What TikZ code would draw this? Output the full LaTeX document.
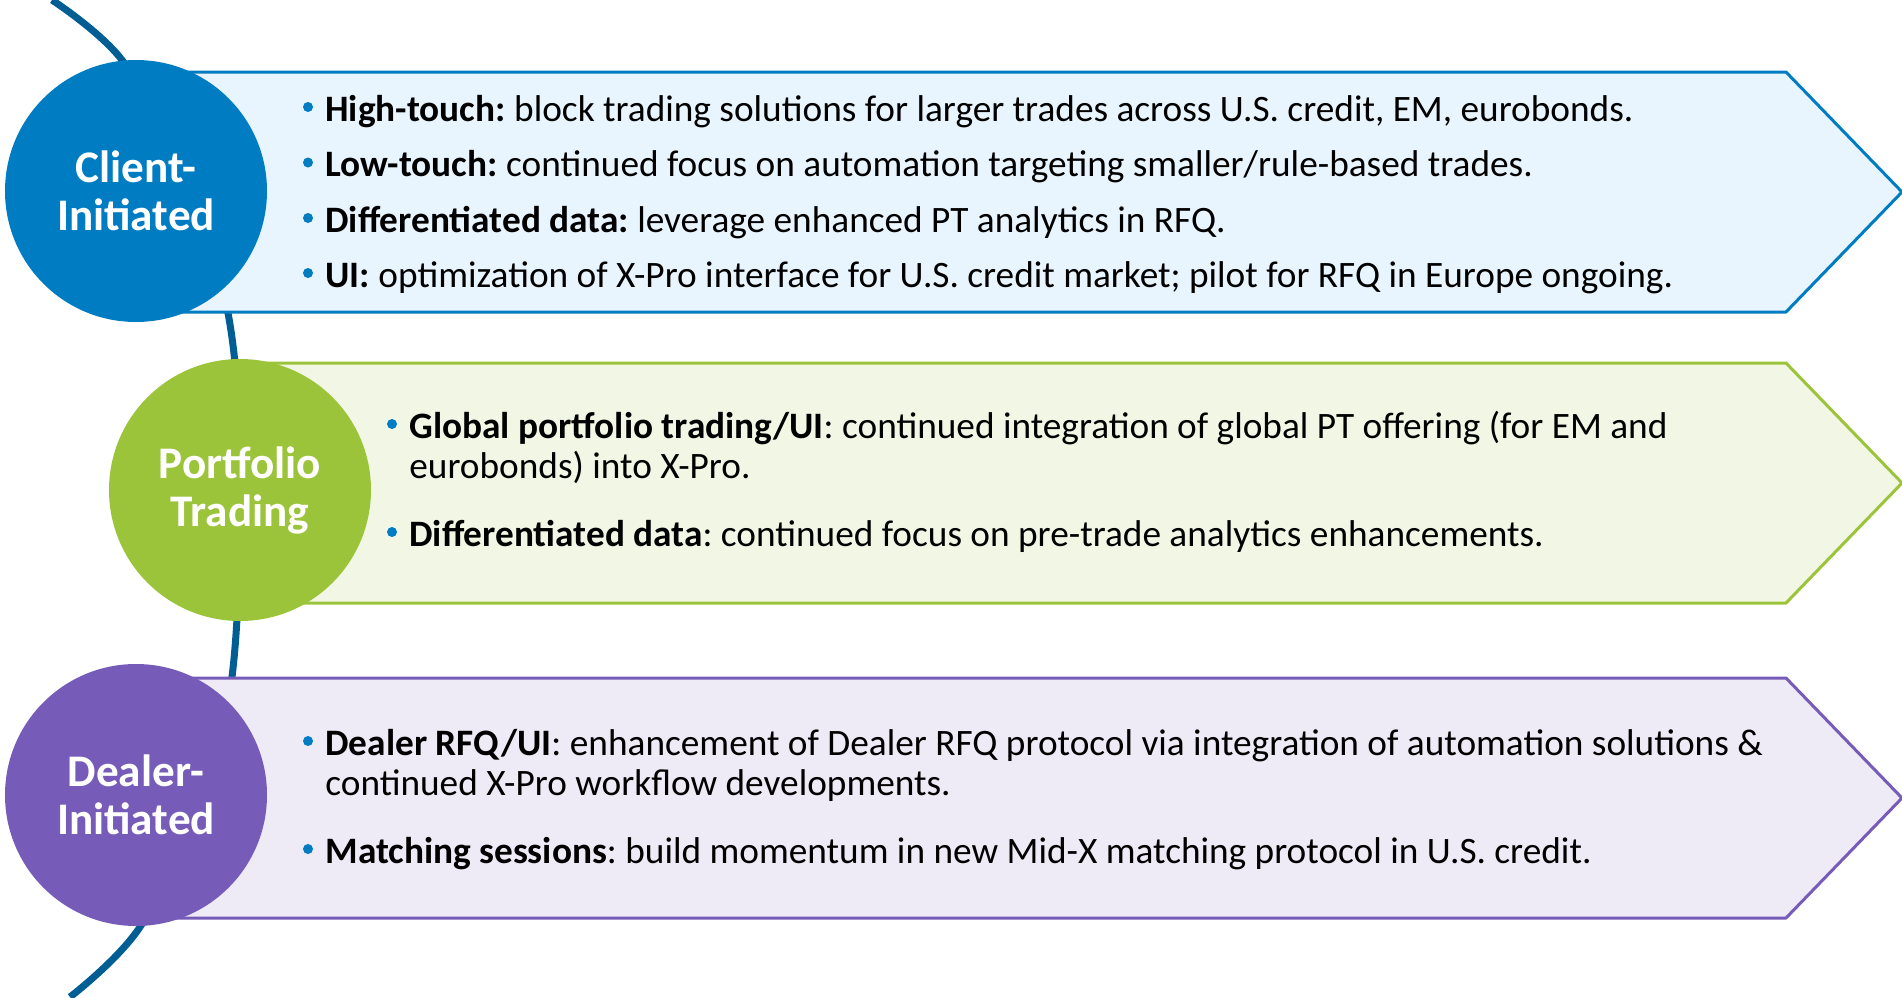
\documentclass[tikz,border=0pt]{standalone}
\usepackage{fontspec}
\setmainfont{Carlito}
\frenchspacing
\definecolor{spineblue}{RGB}{0,94,149}
\definecolor{cliblue}{RGB}{0,124,194}
\definecolor{clifill}{RGB}{233,245,254}
\definecolor{ptgreen}{RGB}{155,196,59}
\definecolor{ptfill}{RGB}{242,247,229}
\definecolor{dlrpurple}{RGB}{118,92,184}
\definecolor{dlrfill}{RGB}{238,234,246}
\begin{document}
\begin{tikzpicture}[x=0.5pt,y=-0.5pt, line join=round,
	bubble/.style={circle, minimum size=131pt, inner sep=0pt, text=white, align=center, font=\fontsize{22.6}{24}\selectfont\bfseries},
	item/.style={anchor=base west, inner sep=0pt, font=\fontsize{18.65}{20}\selectfont},
	dot/.style={circle, fill=cliblue, inner sep=0pt, minimum size=5pt},
	banner/.style={line width=1.5pt}]
	\useasboundingbox (0,0) rectangle (1902,997);
	\def\notch{1786} \def\tip{1902}
	% spine behind the banners
	\draw[spineblue, line width=3.5pt] plot[smooth, tension=0.6] coordinates {(52,0) (122,60) (182,170) (228,313) (240,480) (232,677) (200,800) (140,927) (70,997)};
	% banners
	\draw[banner, cliblue, fill=clifill] (136,72) -- (\notch,72) -- (\tip,192) -- (\notch,312) -- (136,312) -- cycle;
	\draw[banner, ptgreen, fill=ptfill] (240,363) -- (\notch,363) -- (\tip,483) -- (\notch,603) -- (240,603) -- cycle;
	\draw[banner, dlrpurple, fill=dlrfill] (136,678) -- (\notch,678) -- (\tip,798) -- (\notch,918) -- (136,918) -- cycle;
	% circles
	\node[bubble, fill=cliblue] (client) at (136,191) {Client-\\Initiated};
	\node[bubble, fill=ptgreen] (portfolio) at (240,490) {Portfolio\\Trading};
	\node[bubble, fill=dlrpurple] (dealer) at (136,795) {Dealer-\\Initiated};
	% client-initiated
	\node[item] (high) at (325,121) {\textbf{High-touch:} block trading solutions for larger trades across U.S. credit, EM, eurobonds.};
	\node[item] (low) at (325,176.5) {\textbf{Low-touch:} continued focus on automation targeting smaller/rule-based trades.};
	\node[item] (diff) at (325,232) {\textbf{Differentiated data:} leverage enhanced PT analytics in RFQ.};
	\node[item] (ui) at (325,287) {\textbf{UI:} optimization of X-Pro interface for U.S. credit market; pilot for RFQ in Europe ongoing.};
	% portfolio trading
	\node[item] (global) at (409,438) {\textbf{Global portfolio trading/UI}: continued integration of global PT offering (for EM and};
	\node[item] (global2) at (409,478) {eurobonds) into X-Pro.};
	\node[item] (pdiff) at (409,546) {\textbf{Differentiated data}: continued focus on pre-trade analytics enhancements.};
	% dealer-initiated
	\node[item] (rfq) at (325,755) {\textbf{Dealer RFQ/UI}: enhancement of Dealer RFQ protocol via integration of automation solutions \&};
	\node[item] (rfq2) at (325,795) {continued X-Pro workflow developments.};
	\node[item] (match) at (325,863) {\textbf{Matching sessions}: build momentum in new Mid-X matching protocol in U.S. credit.};
	% bullets
	\foreach \n in {high,low,diff,ui,global,pdiff,rfq,match}
		\node[dot] (dot-\n) at ([xshift=-8.5pt,yshift=7pt]\n.base west) {};
\end{tikzpicture}
\end{document}
